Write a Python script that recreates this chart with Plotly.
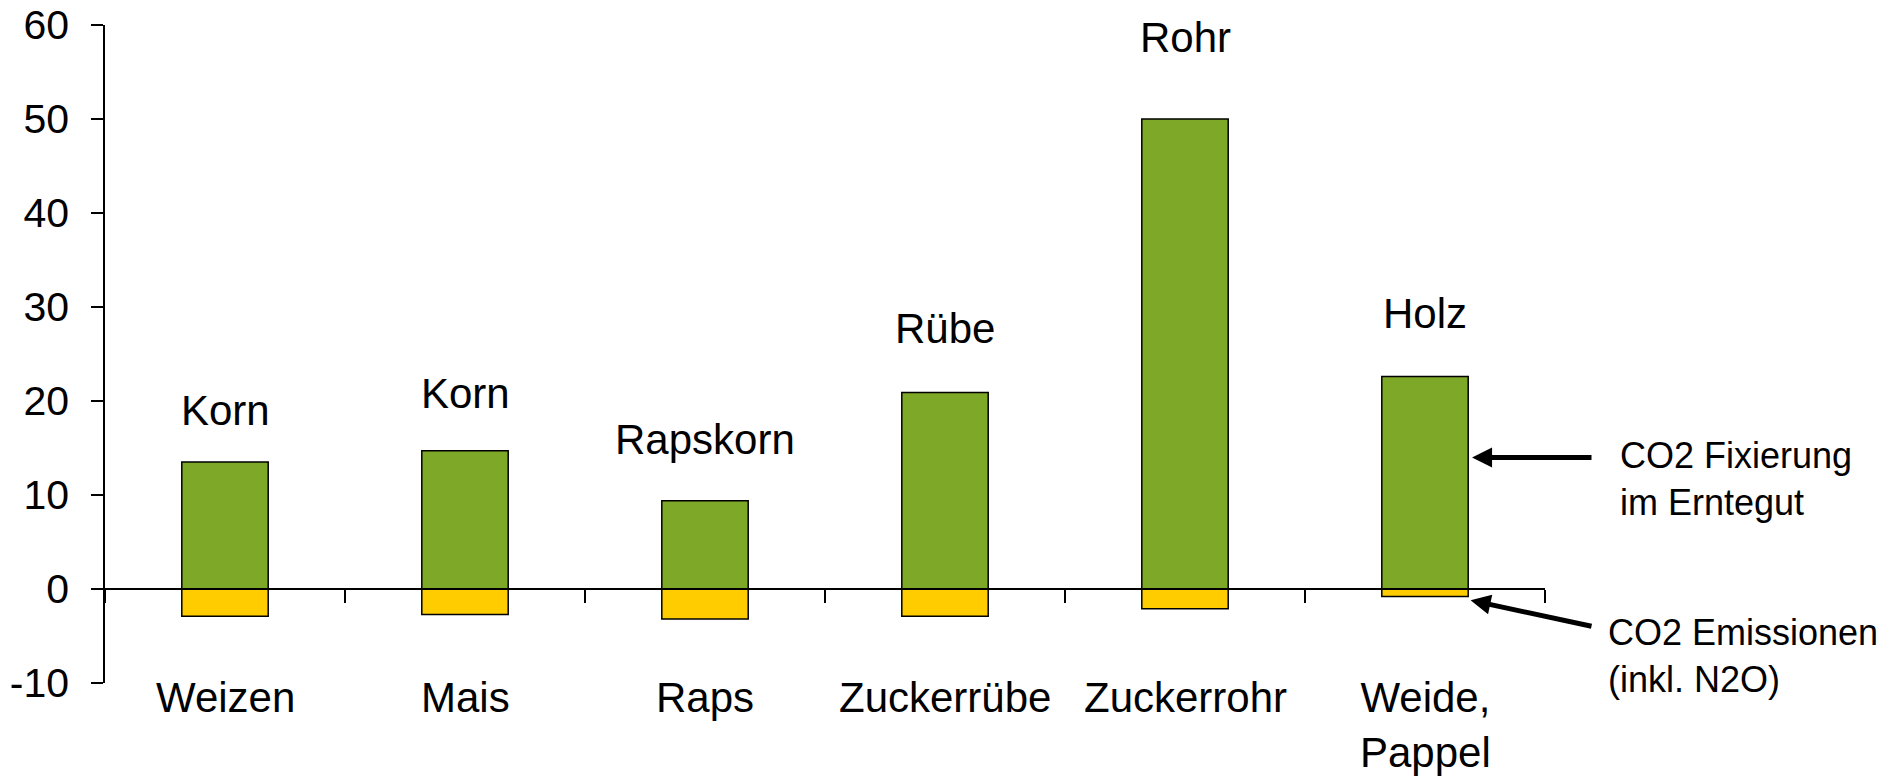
import plotly.graph_objects as go

# ---- data ----
categories = ["Weizen", "Mais", "Raps", "Zuckerrübe", "Zuckerrohr", "Weide,<br>Pappel"]
fixierung = [13.5, 14.7, 9.4, 20.9, 50.0, 22.6]       # CO2 Fixierung im Erntegut
emissionen = [-2.9, -2.7, -3.2, -2.9, -2.1, -0.8]     # CO2 Emissionen (inkl. N2O)
part_labels = ["Korn", "Korn", "Rapskorn", "Rübe", "Rohr", "Holz"]
part_label_y = [19.0, 20.8, 15.9, 27.7, 58.7, 29.3]
y_ticks = [-10, 0, 10, 20, 30, 40, 50, 60]
y_tick_text = ["-10", "0", "10", "20", "30", "40", "50", "60"]

FONT = "Liberation Sans, Arial, sans-serif"
GREEN = "#7EA828"
YELLOW = "#FFCC00"

fig = go.Figure()
fig.add_trace(go.Bar(x=categories, y=fixierung, width=0.36,
                     marker=dict(color=GREEN, line=dict(color="black", width=1.5)),
                     name="CO2 Fixierung im Erntegut"))
fig.add_trace(go.Bar(x=categories, y=emissionen, width=0.36,
                     marker=dict(color=YELLOW, line=dict(color="black", width=1.5)),
                     name="CO2 Emissionen (inkl. N2O)"))

annotations = []
# labels above bars
for c, t, yy in zip(categories, part_labels, part_label_y):
    annotations.append(dict(x=c, y=yy, xref="x", yref="y", text=t, showarrow=False,
                            font=dict(family=FONT, size=42, color="black"),
                            xanchor="center", yanchor="middle"))
# category labels below
for c in categories:
    annotations.append(dict(x=c, y=-10, xref="x", yref="y", text=c, showarrow=False,
                            font=dict(family=FONT, size=42, color="black"),
                            xanchor="center", yanchor="top", yshift=11))

# right-hand explanatory texts with arrows (paper coords: domain spans 105..1545 px)
annotations.append(dict(x=(1618 - 105) / 1440, y=11.7, xref="paper", yref="y",
                        text="CO2 Fixierung<br>im Erntegut", showarrow=False,
                        align="left", xanchor="left", yanchor="middle",
                        font=dict(family=FONT, size=36, color="black")))
annotations.append(dict(x=(1606 - 105) / 1440, y=-7.1, xref="paper", yref="y",
                        text="CO2 Emissionen<br>(inkl. N2O)", showarrow=False,
                        align="left", xanchor="left", yanchor="middle",
                        font=dict(family=FONT, size=36, color="black")))
annotations.append(dict(x=5.196, y=14.0, xref="x", yref="y",
                        ax=5.70, ay=14.0, axref="x", ayref="y", text="",
                        showarrow=True, arrowhead=2, arrowsize=0.8, arrowwidth=5,
                        arrowcolor="black", standoff=0))
annotations.append(dict(x=5.19, y=-1.2, xref="x", yref="y",
                        ax=5.70, ay=-4.0, axref="x", ayref="y", text="",
                        showarrow=True, arrowhead=2, arrowsize=0.8, arrowwidth=5,
                        arrowcolor="black", standoff=0))

fig.update_layout(
    width=1895, height=778,
    margin=dict(l=105, r=350, t=25, b=95, autoexpand=False),
    plot_bgcolor="white", paper_bgcolor="white",
    barmode="relative", showlegend=False,
    font=dict(family=FONT, color="black"),
    annotations=annotations,
    xaxis=dict(range=[-0.5, 5.5], anchor="free", position=10 / 70,
               showline=True, linecolor="black", linewidth=1.5,
               ticks="outside", tickson="boundaries", ticklen=13, tickwidth=1.5,
               tickcolor="black", showticklabels=False, showgrid=False, zeroline=False,
               automargin=False),
    yaxis=dict(range=[-10, 60], tickvals=y_ticks, ticktext=y_tick_text,
               showline=True, linecolor="black",
               linewidth=1.5, ticks="outside", ticklen=12, tickwidth=1.5,
               tickcolor="black", showgrid=False, zeroline=False,
               tickfont=dict(family=FONT, size=41, color="black"),
               ticklabelstandoff=14, automargin=False),
)

fig.write_html("out.html")
